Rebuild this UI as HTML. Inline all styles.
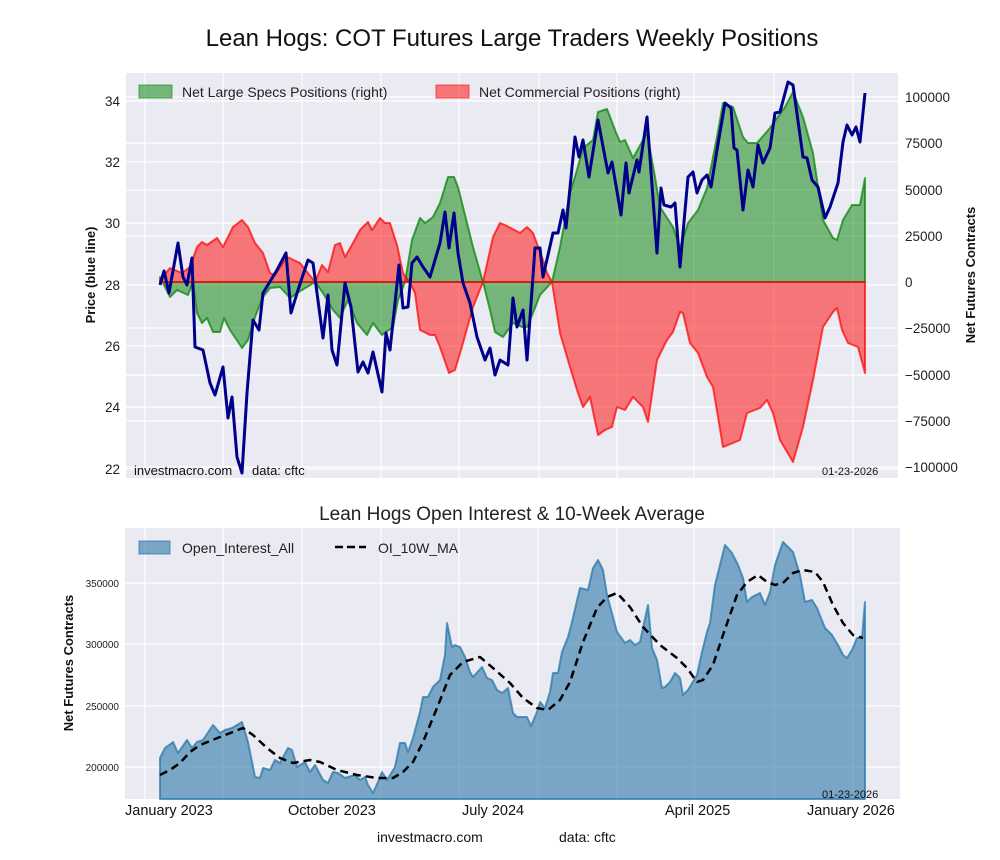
<!DOCTYPE html>
<html><head><meta charset="utf-8"><style>
html,body{margin:0;padding:0;background:#fff;}
svg{display:block;font-family:"Liberation Sans",Arial,sans-serif;}
</style></head><body>
<svg width="1000" height="860" viewBox="0 0 1000 860" xmlns="http://www.w3.org/2000/svg">
<text x="512" y="46" font-size="24" text-anchor="middle" fill="#111">Lean Hogs: COT Futures Large Traders Weekly Positions</text>
<rect x="126" y="73" width="772" height="405" fill="#eaeaf2"/>
<g stroke="#fff" stroke-width="1.2">
<line x1="145" y1="73" x2="145" y2="478"/><line x1="223" y1="73" x2="223" y2="478"/><line x1="302" y1="73" x2="302" y2="478"/><line x1="381" y1="73" x2="381" y2="478"/><line x1="459" y1="73" x2="459" y2="478"/><line x1="539" y1="73" x2="539" y2="478"/><line x1="617" y1="73" x2="617" y2="478"/><line x1="694" y1="73" x2="694" y2="478"/><line x1="774" y1="73" x2="774" y2="478"/><line x1="853" y1="73" x2="853" y2="478"/>
<line x1="126" y1="101" x2="898" y2="101"/><line x1="126" y1="162" x2="898" y2="162"/><line x1="126" y1="223" x2="898" y2="223"/><line x1="126" y1="285" x2="898" y2="285"/><line x1="126" y1="346" x2="898" y2="346"/><line x1="126" y1="407" x2="898" y2="407"/><line x1="126" y1="469" x2="898" y2="469"/>
<line x1="126" y1="97" x2="898" y2="97"/><line x1="126" y1="143" x2="898" y2="143"/><line x1="126" y1="190" x2="898" y2="190"/><line x1="126" y1="236" x2="898" y2="236"/><line x1="126" y1="328" x2="898" y2="328"/><line x1="126" y1="375" x2="898" y2="375"/><line x1="126" y1="421" x2="898" y2="421"/><line x1="126" y1="467" x2="898" y2="467"/>
</g>
<g font-size="13.5" fill="#222">
<text x="120" y="106" text-anchor="end">34</text><text x="120" y="167" text-anchor="end">32</text><text x="120" y="228" text-anchor="end">30</text><text x="120" y="290" text-anchor="end">28</text><text x="120" y="351" text-anchor="end">26</text><text x="120" y="412" text-anchor="end">24</text><text x="120" y="474" text-anchor="end">22</text>
<text x="905" y="102">100000</text><text x="905" y="148">75000</text><text x="905" y="195">50000</text><text x="905" y="241">25000</text><text x="905" y="287">0</text><text x="905" y="333">−25000</text><text x="905" y="380">−50000</text><text x="905" y="426">−75000</text><text x="905" y="472">−100000</text>
</g>
<text transform="translate(95,275) rotate(-90)" font-size="13" font-weight="bold" text-anchor="middle" fill="#111">Price (blue line)</text>
<text transform="translate(975,275) rotate(-90)" font-size="13" font-weight="bold" text-anchor="middle" fill="#111">Net Futures Contracts</text>
<polygon fill="rgba(0,128,0,0.5)" stroke="rgba(0,128,0,0.7)" stroke-width="2" stroke-linejoin="round" points="160,282 160,277 170,297 177,290 188,295 193,282 197,313 202,323 207,318 213,332 220,332 224,318 230,330 242,348 248,340 255,317 263,297 270,288 280,287 290,298 297,293 307,287 315,282 323,293 333,310 340,318 348,300 357,323 367,335 373,323 382,335 393,327 398,300 405,282 412,240 420,218 425,223 433,217 440,203 448,177 454,177 458,187 463,207 473,247 483,282 490,310 495,332 503,337 513,323 522,327 527,327 533,313 540,295 552,282 560,247 570,193 577,170 583,148 593,140 598,112 607,109 615,130 620,142 625,140 633,158 647,133 655,177 660,207 673,227 680,248 688,223 698,210 707,188 717,137 723,103 733,107 743,137 748,143 757,143 770,128 785,107 793,92 803,117 813,153 823,220 833,238 837,240 843,220 852,205 860,205 865,178 865,282"/>
<polygon fill="rgba(255,0,0,0.5)" stroke="rgba(255,0,0,0.7)" stroke-width="2" stroke-linejoin="round" points="160,282 160,280 170,268 182,273 190,267 197,247 202,242 207,245 217,238 223,247 233,227 242,220 248,227 255,243 263,253 270,273 275,275 287,257 300,263 315,282 322,265 328,272 335,245 340,243 345,257 353,243 360,230 368,222 372,230 380,218 385,223 390,223 397,245 403,273 410,283 415,293 420,330 430,335 435,335 440,347 449,373 455,370 463,343 473,307 483,282 493,237 500,223 505,225 520,233 527,227 533,233 543,260 547,273 552,282 560,333 570,367 577,390 583,407 590,397 598,435 605,430 612,427 617,407 625,410 633,397 643,407 648,422 657,360 667,340 673,332 680,312 683,313 690,343 698,353 707,377 713,387 723,447 733,443 740,440 747,413 760,408 767,400 773,413 780,440 793,462 803,427 813,380 823,327 833,312 837,308 842,330 848,343 858,347 865,373 865,282"/>
<line x1="160" y1="282" x2="865" y2="282" stroke="rgba(200,40,20,0.8)" stroke-width="1.5"/>
<polyline fill="none" stroke="#00008b" stroke-width="3" stroke-linejoin="round" points="160,285 164,271 169,293 178,243 183,277 187,285 192,258 195,347 203,350 210,383 215,395 223,367 228,418 232,397 237,457 242,473 247,393 253,320 259,330 263,293 277,270 286,253 291,313 298,290 308,260 313,263 323,338 328,295 332,350 337,365 345,283 351,307 358,372 363,362 368,373 373,352 382,392 386,333 390,350 399,265 403,308 408,307 412,263 417,257 423,267 430,277 440,243 445,212 449,248 454,213 458,253 463,283 470,303 477,337 485,360 490,348 495,375 500,360 508,365 513,298 517,327 523,310 527,360 535,248 540,248 543,277 553,233 558,233 563,210 566,228 575,137 579,157 583,140 589,177 598,120 608,173 612,162 621,215 626,163 629,193 637,160 639,172 647,117 657,253 661,188 664,205 671,207 675,203 680,267 688,177 693,172 697,193 702,180 707,175 711,187 717,150 725,103 731,108 734,148 737,150 743,210 748,170 753,187 758,145 763,163 770,148 775,113 780,112 788,82 793,85 803,157 807,158 812,180 818,187 825,218 830,207 838,183 843,142 847,125 852,135 856,127 860,142 865,93"/>
<rect x="139" y="85" width="33" height="13" fill="rgba(0,128,0,0.5)" stroke="rgba(0,128,0,0.6)"/>
<text x="182" y="97" font-size="14" fill="#222">Net Large Specs Positions (right)</text>
<rect x="436" y="85" width="33" height="13" fill="rgba(255,0,0,0.5)" stroke="rgba(255,0,0,0.6)"/>
<text x="479" y="97" font-size="14" fill="#222">Net Commercial Positions (right)</text>
<text x="134" y="475" font-size="13" fill="#111">investmacro.com</text>
<text x="252" y="475" font-size="13" fill="#111">data: cftc</text>
<text x="822" y="475" font-size="11" fill="#111">01-23-2026</text>

<text x="512" y="520" font-size="19" text-anchor="middle" fill="#222">Lean Hogs Open Interest &amp; 10-Week Average</text>
<rect x="125" y="528" width="775" height="271" fill="#eaeaf2"/>
<g stroke="#fff" stroke-width="1.2">
<line x1="145" y1="528" x2="145" y2="799"/><line x1="223" y1="528" x2="223" y2="799"/><line x1="302" y1="528" x2="302" y2="799"/><line x1="381" y1="528" x2="381" y2="799"/><line x1="459" y1="528" x2="459" y2="799"/><line x1="538" y1="528" x2="538" y2="799"/><line x1="617" y1="528" x2="617" y2="799"/><line x1="694" y1="528" x2="694" y2="799"/><line x1="774" y1="528" x2="774" y2="799"/><line x1="853" y1="528" x2="853" y2="799"/>
<line x1="125" y1="583" x2="900" y2="583"/><line x1="125" y1="644" x2="900" y2="644"/><line x1="125" y1="706" x2="900" y2="706"/><line x1="125" y1="767" x2="900" y2="767"/>
</g>
<g font-size="10" fill="#222" text-anchor="end">
<text x="119" y="587">350000</text><text x="119" y="648">300000</text><text x="119" y="710">250000</text><text x="119" y="771">200000</text>
</g>
<text transform="translate(73,663) rotate(-90)" font-size="13" font-weight="bold" text-anchor="middle" fill="#111">Net Futures Contracts</text>
<polygon fill="rgba(40,115,165,0.58)" stroke="rgba(40,120,170,0.75)" stroke-width="2" stroke-linejoin="round" points="160,799 160,758 165,748 172,743 173,742 178,753 187,740 192,748 197,742 203,740 213,725 220,733 225,730 232,728 242,722 248,742 255,777 260,778 263,768 270,770 275,760 280,763 288,748 292,750 297,767 305,762 310,772 315,765 323,780 328,783 333,772 338,773 345,778 355,775 360,780 365,777 368,785 373,793 378,782 382,772 387,780 395,767 400,743 405,743 408,752 413,738 420,712 423,697 428,697 433,687 440,680 445,655 447,623 452,647 455,645 460,647 465,657 470,672 473,677 482,667 487,678 492,680 497,690 502,693 508,688 513,713 517,717 527,717 531,726 537,712 540,702 545,708 550,692 553,673 558,673 562,652 568,637 572,622 580,588 588,590 593,568 598,560 603,570 607,595 617,632 625,643 630,640 635,645 640,642 648,605 652,648 657,660 662,688 665,687 670,682 675,673 680,678 683,695 688,690 697,675 702,652 707,632 710,623 715,585 725,545 732,553 738,565 743,578 747,602 752,597 760,593 765,605 770,592 775,565 783,542 793,552 800,575 805,602 812,600 817,608 825,628 832,635 838,645 843,655 847,658 852,650 857,638 862,638 865,602 865,799"/>
<polyline fill="none" stroke="#000" stroke-width="2.5" stroke-dasharray="8,5" stroke-linejoin="round" points="160,775 170,770 180,763 190,752 200,745 220,737 243,728 253,735 267,748 280,758 293,763 310,760 320,762 337,770 357,775 377,778 393,778 403,772 413,762 423,742 437,708 450,675 463,662 480,657 493,668 510,683 523,698 537,708 548,710 560,700 570,682 583,642 597,608 607,597 617,593 630,607 643,627 660,645 677,658 687,668 697,682 703,680 713,665 723,635 737,595 747,582 758,575 767,582 775,585 783,583 793,573 803,570 815,572 823,582 833,605 843,623 853,635 863,638"/>
<rect x="139" y="541" width="31" height="13" fill="rgba(40,115,165,0.58)" stroke="rgba(40,120,170,0.75)"/>
<text x="182" y="553" font-size="14" fill="#222">Open_Interest_All</text>
<line x1="335" y1="547" x2="366" y2="547" stroke="#000" stroke-width="2.5" stroke-dasharray="8,4"/>
<text x="378" y="553" font-size="14" fill="#222">OI_10W_MA</text>
<text x="822" y="798" font-size="11" fill="#111">01-23-2026</text>
<g font-size="14.5" fill="#111">
<text x="125" y="815">January 2023</text><text x="288" y="815">October 2023</text><text x="462" y="815">July 2024</text><text x="665" y="815">April 2025</text><text x="807" y="815">January 2026</text>
</g>
<text x="377" y="842" font-size="14" fill="#111">investmacro.com</text>
<text x="559" y="842" font-size="14" fill="#111">data: cftc</text>
</svg>
</body></html>
